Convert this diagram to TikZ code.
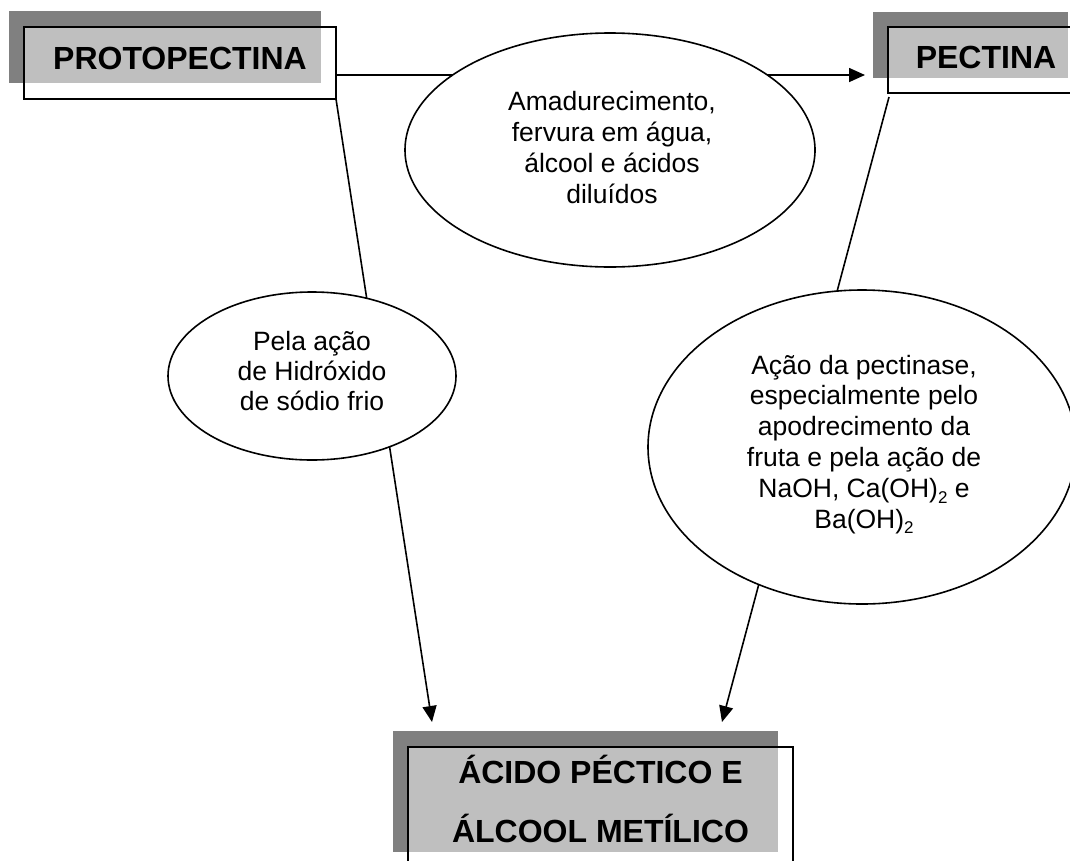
\documentclass[tikz,border=0pt]{standalone}
\usepackage{fontspec}
\setmainfont{Liberation Sans}
\usetikzlibrary{arrows.meta,shapes.geometric}
\definecolor{shadowgray}{HTML}{808080}
\pgfdeclarelayer{bg}
\pgfsetlayers{bg,main}
\newcommand\chemsub[1]{\raisebox{-0.22em}{\fontsize{17}{17}\selectfont #1}}
\begin{document}
\begin{tikzpicture}[x=1pt,y=-1pt,
  boxshape/.style={draw=black, line width=1.6pt, fill=white, fill opacity=0.5, rectangle, inner sep=0pt, outer sep=0pt},
  boxtext/.style={font=\fontsize{32}{59}\selectfont\bfseries, anchor=base, align=center, inner sep=0pt},
  bubble/.style={draw=black, line width=1.6pt, fill=white, ellipse, inner sep=0pt, outer sep=0pt},
  bubbletext/.style={anchor=base, align=center, inner sep=0pt},
  shadowfill/.style={fill=shadowgray},
  conn/.style={line width=1.6pt, draw=black},
  arr/.style={conn, -{Triangle[length=16pt,width=14pt]}}]
\useasboundingbox (0,0) rectangle (1070,860);
\clip (0,0) rectangle (1070,860);
% boxes
\node[boxshape, minimum width=312pt, minimum height=72pt] (proto) at (180,63) {};
\node[boxshape, minimum width=195pt, minimum height=66pt] (pect) at (985.5,60) {};
\node[boxshape, minimum width=385pt, minimum height=121pt] (acid) at (600.5,807.5) {};
\begin{pgfonlayer}{bg}
  \fill[shadowfill] ([shift={(-15,-16)}]proto.south west) rectangle ([shift={(-15,-16)}]proto.north east);
  \fill[shadowfill] ([shift={(-15,-15)}]pect.south west) rectangle ([shift={(-15,-15)}]pect.north east);
  \fill[shadowfill] ([shift={(-15,-16)}]acid.south west) rectangle ([shift={(-15,-16)}]acid.north east);
\end{pgfonlayer}
\node[boxtext] (protoT) at (180,69) {PROTOPECTINA};
\node[boxtext] (pectT) at (986,68) {PECTINA};
\node[boxtext] (acidT) at (600.5,842) {ÁCIDO PÉCTICO E\\ÁLCOOL METÍLICO};
% connector end points
\coordinate (hstart) at (336,75);
\coordinate (htip) at (865,75);
\coordinate (ltip) at (432,722);
\coordinate (pstart) at (889,97);
\coordinate (rtip) at (722,722);
\begin{pgfonlayer}{bg}
  \draw[arr] (hstart) -- (htip);
  \draw[arr] (proto.south east) -- (ltip);
  \draw[arr] (pstart) -- (rtip);
\end{pgfonlayer}
% ellipses
\node[bubble, minimum width=410pt, minimum height=234pt] (top) at (610,150) {};
\node[bubble, minimum width=288pt, minimum height=168pt] (left) at (312,376) {};
\node[bubble, minimum width=428pt, minimum height=314pt] (right) at (862,447) {};
\node[bubbletext, font=\fontsize{26.5}{31}\selectfont] (topT) at (612,203)
  {Amadurecimento,\\fervura em água,\\álcool e ácidos\\diluídos};
\node[bubbletext, font=\fontsize{26.5}{30}\selectfont] (leftT) at (312,410)
  {Pela ação\\de Hidróxido\\de sódio frio};
\node[bubbletext, font=\fontsize{26.5}{30.8}\selectfont] (rightT) at (864,528)
  {Ação da pectinase,\\especialmente pelo\\apodrecimento da\\fruta e pela ação de\\NaOH, Ca(OH)\chemsub{2} e\\Ba(OH)\chemsub{2}};
\end{tikzpicture}
\end{document}
